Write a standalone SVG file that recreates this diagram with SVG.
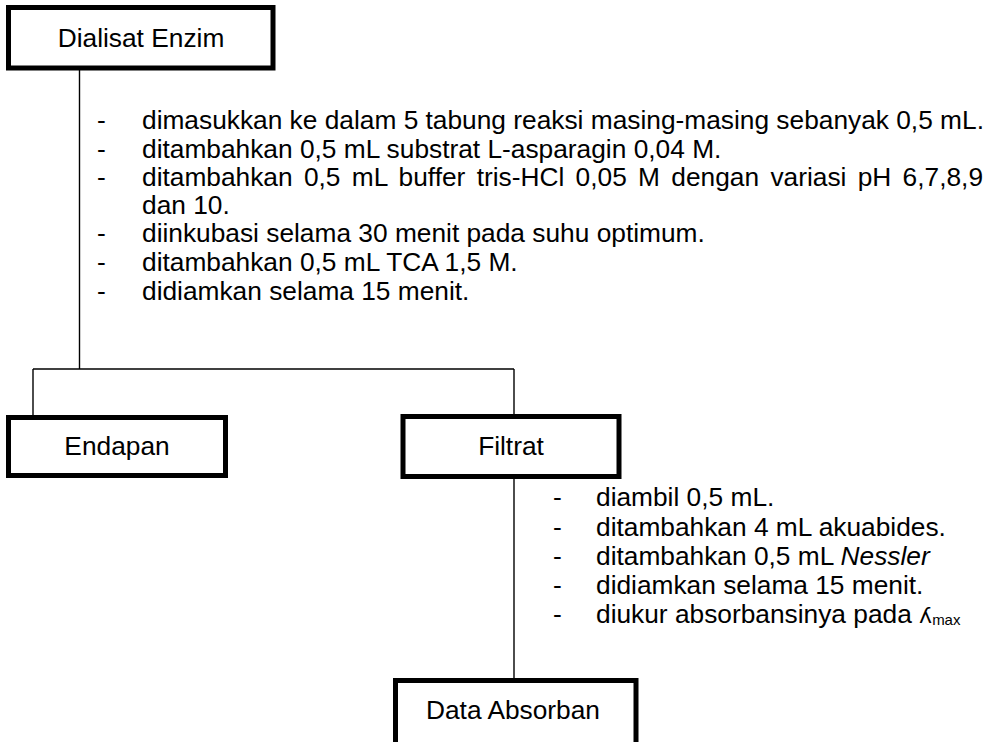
<svg xmlns="http://www.w3.org/2000/svg" width="995" height="742" viewBox="0 0 995 742">
  <style>
    .box { fill: #ffffff; stroke: #000000; stroke-width: 5; }
    .wire { fill: none; stroke: #000000; stroke-width: 1.4; }
    text { font-family: "Liberation Sans", Arial, sans-serif; font-size: 26.3px; fill: #000000; }
    .label { text-anchor: middle; }
  </style>
  <rect width="995" height="742" fill="#ffffff"/>

  <g id="connectors">
    <line class="wire" x1="79.5" y1="68" x2="79.5" y2="369"/>
    <line class="wire" x1="33" y1="369" x2="514" y2="369"/>
    <line class="wire" x1="33" y1="369" x2="33" y2="417"/>
    <line class="wire" x1="514" y1="369" x2="514" y2="416"/>
    <line class="wire" x1="514" y1="477" x2="514" y2="680"/>
  </g>

  <g id="dialisat-enzim">
    <rect class="box" x="8.5" y="7.5" width="264.5" height="60.5"/>
    <text class="label" x="141" y="47">Dialisat Enzim</text>
  </g>

  <g id="steps-1">
    <text x="97" y="129">-</text><text x="142" y="129">dimasukkan ke dalam 5 tabung reaksi masing-masing sebanyak 0,5 mL.</text>
    <text x="97" y="158">-</text><text x="142" y="158">ditambahkan 0,5 mL substrat L-asparagin 0,04 M.</text>
    <text x="97" y="186">-</text><text x="142" y="186" word-spacing="4">ditambahkan 0,5 mL buffer tris-HCl 0,05 M dengan variasi pH 6,7,8,9</text>
    <text x="142" y="214">dan 10.</text>
    <text x="97" y="242">-</text><text x="142" y="242">diinkubasi selama 30 menit pada suhu optimum.</text>
    <text x="97" y="271">-</text><text x="142" y="271">ditambahkan 0,5 mL TCA 1,5 M.</text>
    <text x="97" y="300">-</text><text x="142" y="300">didiamkan selama 15 menit.</text>
  </g>

  <g id="endapan">
    <rect class="box" x="8.5" y="417.5" width="217" height="58"/>
    <text class="label" x="117" y="455">Endapan</text>
  </g>

  <g id="filtrat">
    <rect class="box" x="403" y="416.5" width="216" height="60"/>
    <text class="label" x="511" y="455">Filtrat</text>
  </g>

  <g id="steps-2">
    <text x="553" y="506">-</text><text x="596" y="506">diambil 0,5 mL.</text>
    <text x="553" y="536">-</text><text x="596" y="536">ditambahkan 4 mL akuabides.</text>
    <text x="553" y="565">-</text><text x="596" y="565">ditambahkan 0,5 mL <tspan font-style="italic">Nessler</tspan></text>
    <text x="553" y="594">-</text><text x="596" y="594">didiamkan selama 15 menit.</text>
    <text x="553" y="623">-</text><text x="596" y="623">diukur absorbansinya pada <tspan font-family="'DejaVu Sans', sans-serif" font-size="22px">ʎ</tspan><tspan font-size="15px" dy="2">max</tspan></text>
  </g>

  <g id="data-absorban">
    <rect class="box" x="395.5" y="680.5" width="240.5" height="80"/>
    <text class="label" x="513" y="719">Data Absorban</text>
  </g>
</svg>
